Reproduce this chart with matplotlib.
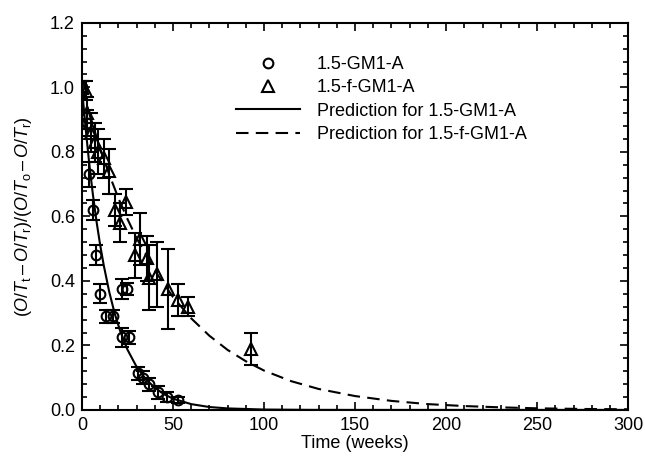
import numpy as np
import matplotlib
matplotlib.use('Agg')
import matplotlib.pyplot as plt
from matplotlib.ticker import MultipleLocator

plt.rcParams['font.family'] = ['Liberation Sans', 'DejaVu Sans']
plt.rcParams['font.size'] = 13
plt.rcParams['mathtext.fontset'] = 'custom'
plt.rcParams['mathtext.rm'] = 'Liberation Sans'
plt.rcParams['mathtext.it'] = 'Liberation Sans:italic'

# measured points, 1.5-GM1-A (circles)
gm_t = [0, 3, 4, 6, 8, 10, 13, 17, 22, 25, 22, 26, 31, 33.5, 37, 42, 46.5, 53]
gm_v = [1.0, 0.89, 0.73, 0.62, 0.48, 0.36, 0.29, 0.29, 0.375, 0.375, 0.225, 0.225,
        0.114, 0.10, 0.08, 0.055, 0.04, 0.03]
gm_err = [0.02, 0.04, 0.04, 0.03, 0.03, 0.03, 0.02, 0.02, 0.03, 0.02, 0.03, 0.02,
          0.02, 0.02, 0.02, 0.02, 0.015, 0.01]

# measured points, 1.5-f-GM1-A (triangles)
fgm_t = [0, 2, 3, 5, 7, 9, 12, 15, 18, 21, 24, 29, 32, 36, 37, 41, 47, 53, 58, 93]
fgm_v = [1.0, 0.99, 0.92, 0.86, 0.83, 0.80, 0.78, 0.74, 0.62, 0.58, 0.645, 0.48,
         0.53, 0.47, 0.41, 0.42, 0.375, 0.34, 0.32, 0.19]
fgm_err = [0.02, 0.03, 0.05, 0.06, 0.06, 0.07, 0.06, 0.07, 0.05, 0.06, 0.04, 0.07,
           0.08, 0.07, 0.10, 0.10, 0.125, 0.05, 0.03, 0.05]

# prediction curves
pred_gm_t = [0, 2, 4, 6, 8, 10, 12, 15, 18, 21, 25, 30, 35, 40, 45, 50, 60, 70, 80,
             100, 125, 150, 200, 250, 300]
pred_gm_v = [1.0, 0.875, 0.765, 0.669, 0.585, 0.512, 0.448, 0.366, 0.299, 0.245,
             0.187, 0.134, 0.096, 0.069, 0.049, 0.035, 0.018, 0.009, 0.0047,
             0.0012, 0.0002, 0.0, 0.0, 0.0, 0.0]
pred_fgm_t = [0, 5, 10, 15, 20, 25, 30, 40, 50, 60, 70, 80, 90, 100, 115, 130, 150,
              170, 190, 210, 230, 250, 275, 300]
pred_fgm_v = [1.0, 0.900, 0.811, 0.730, 0.657, 0.592, 0.533, 0.432, 0.350, 0.284,
              0.230, 0.186, 0.151, 0.122, 0.089, 0.065, 0.043, 0.028, 0.018, 0.012,
              0.008, 0.005, 0.003, 0.002]

fig = plt.figure(figsize=(6.45, 4.57), dpi=100)
ax = fig.add_axes([0.127, 0.103, 0.847, 0.847])

ax.plot(pred_gm_t, pred_gm_v, '-', color='k', lw=1.5, label='Prediction for 1.5-GM1-A')
ax.plot(pred_fgm_t, pred_fgm_v, '--', color='k', lw=1.5, dashes=(6, 3.5),
        label='Prediction for 1.5-f-GM1-A')

ax.errorbar(gm_t, gm_v, yerr=gm_err, fmt='none', ecolor='k', elinewidth=1.5,
            capsize=5, capthick=1.5)
ax.errorbar(fgm_t, fgm_v, yerr=fgm_err, fmt='none', ecolor='k', elinewidth=1.5,
            capsize=5, capthick=1.5)
ax.plot(gm_t, gm_v, 'o', ms=7, mfc='none', mec='k', mew=1.5, label='1.5-GM1-A')
ax.plot(fgm_t, fgm_v, '^', ms=8, mfc='none', mec='k', mew=1.5, label='1.5-f-GM1-A')

ax.set_xlim(0, 300)
ax.set_ylim(0, 1.2)
ax.xaxis.set_major_locator(MultipleLocator(50))
ax.xaxis.set_minor_locator(MultipleLocator(10))
ax.yaxis.set_major_locator(MultipleLocator(0.2))
ax.yaxis.set_minor_locator(MultipleLocator(0.04))
ax.tick_params(which='both', direction='in', top=True, right=True, width=1.2, pad=5)
ax.tick_params(which='major', length=6)
ax.tick_params(which='minor', length=3.5)
ax.yaxis.set_major_formatter(plt.FormatStrFormatter('%.1f'))
for s in ax.spines.values():
    s.set_linewidth(1.5)

ax.set_xlabel('Time (weeks)', labelpad=1)
ax.set_ylabel(r'$(O/T_{\rm t}\,\endash\,O/T_{\rm r})/(O/T_{\rm o}\,\endash\,O/T_{\rm r})$')
ax.yaxis.set_label_coords(-0.088, 0.5)

h, l = ax.get_legend_handles_labels()
order = [2, 3, 0, 1]
ax.legend([h[i] for i in order], [l[i] for i in order], loc='upper left',
          bbox_to_anchor=(0.253, 0.956), frameon=False, handlelength=3.5,
          handletextpad=0.95, labelspacing=0.35)

fig.savefig('out.png', dpi=100)
